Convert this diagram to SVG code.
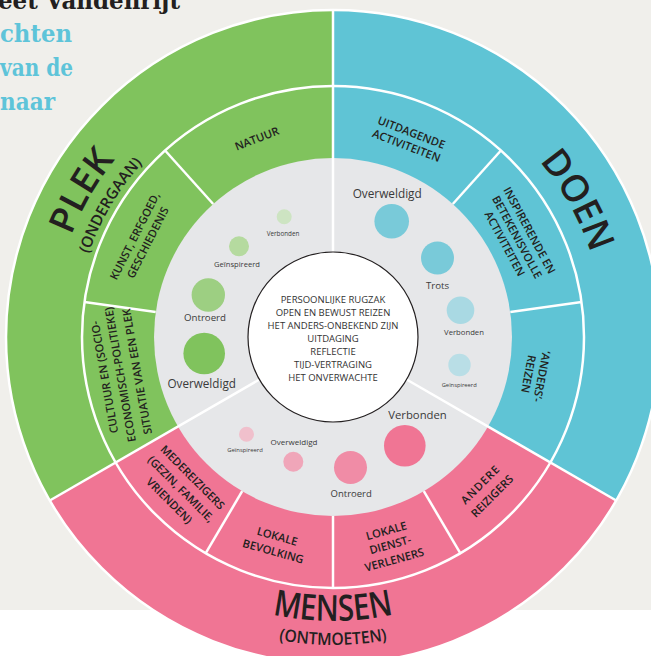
<svg xmlns="http://www.w3.org/2000/svg" width="651" height="656" viewBox="0 0 651 656">
  <style>
    .divider { stroke: #ffffff; stroke-width: 2.5; fill: none; }
    .title { font-family: "Open Sans", "DejaVu Sans", sans-serif; font-weight: 600; fill: #231f20; }
    .lbl { font-family: "Open Sans", "DejaVu Sans", sans-serif; font-weight: 600; font-size: 11.2px; fill: #231f20; text-anchor: middle; }
    .emo { font-family: "Open Sans", "DejaVu Sans", sans-serif; fill: #3a3a3a; text-anchor: middle; }
    .core { font-family: "Open Sans", "DejaVu Sans", sans-serif; font-size: 9.5px; fill: #333333; text-anchor: middle; }
    .head { font-family: "DejaVu Serif", "Liberation Serif", serif; font-size: 24px; font-weight: 700; }
  </style>
  <defs>
    <!-- baseline arcs for the ring titles -->
    <path id="arc-plek" d="M56.5,385.0 A281,281 0 0,1 237.7,72.6"/>
    <path id="arc-ondergaan" d="M78.4,379.2 A258,258 0 0,1 247.3,93.7"/>
    <path id="arc-doen" d="M429.2,83.7 A271,271 0 0,1 599.2,387.8"/>
    <path id="arc-mensen" d="M150.5,554.5 A284,284 0 0,0 515.5,554.5"/>
    <path id="arc-ontmoeten" d="M135,572.9 A308,308 0 0,0 531,572.9"/>
  </defs>

  <!-- page -->
  <rect x="0" y="0" width="651" height="656" fill="#ffffff"/>
  <rect x="0" y="0" width="651" height="610" fill="#f0efeb"/>

  <!-- heading -->
  <g id="heading">
    <text class="head" x="-2" y="9" fill="#231f20" font-size="26" textLength="182" lengthAdjust="spacingAndGlyphs">eet Vandenrijt</text>
    <text class="head" x="0" y="42" fill="#5ec4d9" textLength="72" lengthAdjust="spacingAndGlyphs">chten</text>
    <text class="head" x="0" y="75.5" fill="#5ec4d9" textLength="73" lengthAdjust="spacingAndGlyphs">van de</text>
    <text class="head" x="0" y="109.5" fill="#5ec4d9" textLength="55" lengthAdjust="spacingAndGlyphs">naar</text>
  </g>

  <!-- three 120 degree sectors -->
  <g id="plek">
    <path d="M333,337 L49.8,500.5 A327,327 0 0,1 333,10 Z" fill="#80c35d"/>
  </g>
  <g id="doen">
    <path d="M333,337 L333,10 A327,327 0 0,1 616.2,500.5 Z" fill="#5fc4d5"/>
  </g>
  <g id="mensen">
    <path d="M333,337 L616.2,500.5 A327,327 0 0,1 49.8,500.5 Z" fill="#f07594"/>
  </g>

  <!-- grey emotion ring -->
  <circle id="emotion-ring" cx="333" cy="337" r="179" fill="#e6e7e9"/>

  <g id="connectors">
    <circle class="divider" cx="333" cy="337" r="327"/>
    <circle class="divider" cx="333" cy="337" r="251"/>
    <line class="divider" x1="333" y1="252" x2="333" y2="10"/>
    <line class="divider" x1="406.6" y1="379.5" x2="616.2" y2="500.5"/>
    <line class="divider" x1="259.4" y1="379.5" x2="49.8" y2="500.5"/>
    <line class="divider" x1="155.7" y1="312.1" x2="84.4" y2="302.1"/>
    <line class="divider" x1="213.2" y1="204.0" x2="165.1" y2="150.5"/>
    <line class="divider" x1="452.8" y1="204.0" x2="500.9" y2="150.5"/>
    <line class="divider" x1="510.3" y1="312.1" x2="581.6" y2="302.1"/>
    <line class="divider" x1="423.8" y1="491.2" x2="460.4" y2="553.3"/>
    <line class="divider" x1="333" y1="516" x2="333" y2="588"/>
    <line class="divider" x1="242.2" y1="491.2" x2="205.6" y2="553.3"/>
  </g>

  <!-- ring titles -->
  <g id="title-plek">
    <text class="title" font-size="36"><textPath href="#arc-plek" startOffset="50%" text-anchor="middle" textLength="88" lengthAdjust="spacingAndGlyphs">PLEK</textPath></text>
    <text class="title" font-size="15.5"><textPath href="#arc-ondergaan" startOffset="50%" text-anchor="middle" textLength="106" lengthAdjust="spacingAndGlyphs">(ONDERGAAN)</textPath></text>
  </g>
  <g id="title-doen">
    <text class="title" font-size="37"><textPath href="#arc-doen" startOffset="50%" text-anchor="middle" textLength="106" lengthAdjust="spacingAndGlyphs">DOEN</textPath></text>
  </g>
  <g id="title-mensen">
    <text class="title" font-size="36"><textPath href="#arc-mensen" startOffset="50%" text-anchor="middle" textLength="122" lengthAdjust="spacingAndGlyphs">MENSEN</textPath></text>
    <text class="title" font-size="17"><textPath href="#arc-ontmoeten" startOffset="50%" text-anchor="middle" textLength="109" lengthAdjust="spacingAndGlyphs">(ONTMOETEN)</textPath></text>
  </g>

  <!-- segment labels -->
  <g id="seg-natuur">
    <text class="lbl" transform="translate(333 337) rotate(339)" y="-208.5">NATUUR</text>
  </g>
  <g id="seg-kunst">
    <text class="lbl" transform="translate(333 337) rotate(297)" y="-218.5">KUNST, ERFGOED,</text>
    <text class="lbl" transform="translate(333 337) rotate(297)" y="-204">GESCHIEDENIS</text>
  </g>
  <g id="seg-cultuur">
    <text class="lbl" transform="translate(333 337) rotate(260)" y="-228" font-size="10">CULTUUR EN (SOCIO-</text>
    <text class="lbl" transform="translate(333 337) rotate(260)" y="-212" font-size="10">ECONOMISCH-POLITIEKE)</text>
    <text class="lbl" transform="translate(333 337) rotate(260)" y="-195" font-size="10">SITUATIE VAN EEN PLEK</text>
  </g>
  <g id="seg-uitdagende">
    <text class="lbl" transform="translate(333 337) rotate(21)" y="-215">UITDAGENDE</text>
    <text class="lbl" transform="translate(333 337) rotate(21)" y="-201">ACTIVITEITEN</text>
  </g>
  <g id="seg-inspirerende">
    <text class="lbl" transform="translate(333 337) rotate(61.5)" y="-219.5">INSPIRERENDE EN</text>
    <text class="lbl" transform="translate(333 337) rotate(61.5)" y="-205.5">BETEKENISVOLLE</text>
    <text class="lbl" transform="translate(333 337) rotate(61.5)" y="-191.5">ACTIVITEITEN</text>
  </g>
  <g id="seg-anders">
    <text class="lbl" transform="translate(333 337) rotate(100.7)" y="-208.5">‘ANDERS’-</text>
    <text class="lbl" transform="translate(333 337) rotate(100.7)" y="-195">REIZEN</text>
  </g>
  <g id="seg-andere">
    <text class="lbl" transform="translate(333 337) rotate(-45)" y="212.5" letter-spacing="1">ANDERE</text>
    <text class="lbl" transform="translate(333 337) rotate(-45)" y="229">REIZIGERS</text>
  </g>
  <g id="seg-dienstverleners">
    <text class="lbl" transform="translate(333 337) rotate(-15.4)" y="205">LOKALE</text>
    <text class="lbl" transform="translate(333 337) rotate(-15.4)" y="219.5">DIENST-</text>
    <text class="lbl" transform="translate(333 337) rotate(-15.4)" y="235">VERLENERS</text>
  </g>
  <g id="seg-bevolking">
    <text class="lbl" transform="translate(333 337) rotate(15.6)" y="211">LOKALE</text>
    <text class="lbl" transform="translate(333 337) rotate(15.6)" y="226.5">BEVOLKING</text>
  </g>
  <g id="seg-medereizigers">
    <text class="lbl" transform="translate(333 337) rotate(45)" y="202.5">MEDEREIZIGERS</text>
    <text class="lbl" transform="translate(333 337) rotate(45)" y="219">(GEZIN, FAMILIE,</text>
    <text class="lbl" transform="translate(333 337) rotate(45)" y="235.5">VRIENDEN)</text>
  </g>

  <!-- emotion bubbles: place -->
  <g id="emo-plek">
    <circle cx="284.2" cy="216.7" r="7.5" fill="#cde4c2"/>
    <text class="emo" x="283" y="236" font-size="6.3">Verbonden</text>
    <circle cx="239" cy="246.3" r="10" fill="#b5da9f"/>
    <text class="emo" x="237" y="266.7" font-size="7.6">Geïnspireerd</text>
    <circle cx="208.3" cy="295" r="16.7" fill="#9dcf82"/>
    <text class="emo" x="205" y="320.7" font-size="9.7">Ontroerd</text>
    <circle cx="204.2" cy="353.5" r="20.8" fill="#80c35d"/>
    <text class="emo" x="201.7" y="388.3" font-size="11.7">Overweldigd</text>
  </g>
  <!-- emotion bubbles: doing -->
  <g id="emo-doen">
    <text class="emo" x="387.2" y="197.7" font-size="11.8">Overweldigd</text>
    <circle cx="391.7" cy="221.3" r="17.3" fill="#79cad9"/>
    <circle cx="437.5" cy="258" r="16.5" fill="#79cad9"/>
    <text class="emo" x="437.5" y="289.3" font-size="9.7">Trots</text>
    <circle cx="460.5" cy="310.3" r="13.8" fill="#a9d9e3"/>
    <text class="emo" x="464" y="335" font-size="7.7">Verbonden</text>
    <circle cx="459.5" cy="365" r="11.2" fill="#b9dee6"/>
    <text class="emo" x="459.2" y="386.7" font-size="5.8">Geïnspireerd</text>
  </g>
  <!-- emotion bubbles: people -->
  <g id="emo-mensen">
    <circle cx="246.5" cy="434.2" r="7.5" fill="#f0c0cc"/>
    <text class="emo" x="245" y="452.3" font-size="5.9">Geïnspireerd</text>
    <text class="emo" x="294" y="445.3" font-size="8">Overweldigd</text>
    <circle cx="293.3" cy="461.7" r="10" fill="#f0a6b9"/>
    <circle cx="350.5" cy="467.5" r="16.5" fill="#f08ca6"/>
    <text class="emo" x="351.2" y="496.7" font-size="9.5">Ontroerd</text>
    <text class="emo" x="417.5" y="419" font-size="11.3">Verbonden</text>
    <circle cx="404.8" cy="445.8" r="20.8" fill="#f07594"/>
  </g>

  <!-- core: personal backpack -->
  <g id="core">
    <circle cx="333" cy="337" r="85" fill="#ffffff" stroke="#231f20" stroke-width="1.2"/>
    <text class="core" x="333" y="302.7">PERSOONLIJKE RUGZAK</text>
    <text class="core" x="333" y="315.7">OPEN EN BEWUST REIZEN</text>
    <text class="core" x="333" y="328.7">HET ANDERS-ONBEKEND ZIJN</text>
    <text class="core" x="333" y="341.7">UITDAGING</text>
    <text class="core" x="333" y="354.7">REFLECTIE</text>
    <text class="core" x="333" y="367.7">TIJD-VERTRAGING</text>
    <text class="core" x="333" y="380.7">HET ONVERWACHTE</text>
  </g>
</svg>
